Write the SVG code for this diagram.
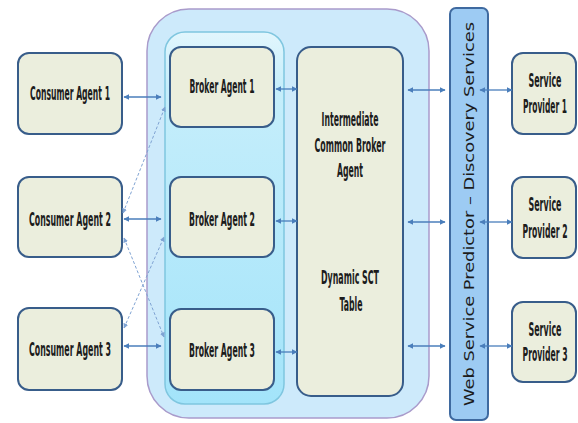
<svg xmlns="http://www.w3.org/2000/svg" width="578" height="423" viewBox="0 0 578 423">
<defs>
<marker id="ah" viewBox="0 0 10 10" refX="9" refY="5" markerWidth="6" markerHeight="6" orient="auto-start-reverse" markerUnits="userSpaceOnUse"><path d="M0,0 L10,5 L0,10 z" fill="#4a7ebb"/></marker>
<marker id="ahs" viewBox="0 0 10 10" refX="9" refY="5" markerWidth="5" markerHeight="5" orient="auto-start-reverse" markerUnits="userSpaceOnUse"><path d="M0,0 L10,5 L0,10 z" fill="#7fa3d3"/></marker>
<linearGradient id="inner" x1="0" y1="0" x2="0" y2="1"><stop offset="0" stop-color="#e2f6fd"/><stop offset="0.15" stop-color="#c6eefb"/><stop offset="1" stop-color="#a3e4fa"/></linearGradient>
</defs>
<style>
.node{fill:#ebeedd;stroke:#385d8a;stroke-width:2}
.t{font-family:"DejaVu Sans Condensed","Liberation Sans Narrow","Liberation Sans",sans-serif;font-size:19px;font-weight:bold;fill:#1c1c1c;text-anchor:middle}
.c{stroke:#4a7ebb;stroke-width:1.3;fill:none;marker-start:url(#ah);marker-end:url(#ah)}
.d{stroke:#7fa3d3;stroke-width:1;fill:none;stroke-dasharray:3 2;marker-start:url(#ahs);marker-end:url(#ahs)}
</style>
<rect x="0" y="0" width="578" height="423" fill="#ffffff"/>
<g id="broker-container">
<rect x="147" y="9" width="282" height="409" rx="42" fill="#cdeafb" stroke="#a99bcb" stroke-width="1.5"/>
<rect x="165" y="32" width="119" height="372" rx="20" fill="url(#inner)" stroke="#7fc6df" stroke-width="1.5"/>
</g>
<g id="consumer1"><rect class="node" x="18" y="53" width="104" height="81" rx="11"/><text class="t" transform="translate(70,100) scale(0.5,1)" textLength="160" lengthAdjust="spacingAndGlyphs">Consumer Agent 1</text></g>
<g id="consumer2"><rect class="node" x="18" y="177" width="104" height="80" rx="11"/><text class="t" transform="translate(70,226) scale(0.5,1)" textLength="164" lengthAdjust="spacingAndGlyphs">Consumer Agent 2</text></g>
<g id="consumer3"><rect class="node" x="18" y="308" width="104" height="82" rx="11"/><text class="t" transform="translate(70,356) scale(0.5,1)" textLength="164" lengthAdjust="spacingAndGlyphs">Consumer Agent 3</text></g>
<g id="broker1"><rect class="node" x="170" y="47" width="104" height="80" rx="11"/><text class="t" transform="translate(222,93) scale(0.5,1)" textLength="130" lengthAdjust="spacingAndGlyphs">Broker Agent 1</text></g>
<g id="broker2"><rect class="node" x="170" y="177" width="104" height="80" rx="11"/><text class="t" transform="translate(222,226) scale(0.5,1)" textLength="132" lengthAdjust="spacingAndGlyphs">Broker Agent 2</text></g>
<g id="broker3"><rect class="node" x="170" y="309" width="104" height="81" rx="11"/><text class="t" transform="translate(222,357) scale(0.5,1)" textLength="132" lengthAdjust="spacingAndGlyphs">Broker Agent 3</text></g>
<g id="icba"><rect class="node" x="297" y="47" width="106" height="349" rx="14"/>
<text class="t" transform="translate(350,126) scale(0.5,1)" textLength="114" lengthAdjust="spacingAndGlyphs">Intermediate</text>
<text class="t" transform="translate(350,152) scale(0.5,1)" textLength="142" lengthAdjust="spacingAndGlyphs">Common Broker</text>
<text class="t" transform="translate(350,177) scale(0.5,1)" textLength="52" lengthAdjust="spacingAndGlyphs">Agent</text>
<text class="t" transform="translate(350,284) scale(0.5,1)" textLength="116" lengthAdjust="spacingAndGlyphs">Dynamic SCT</text>
<text class="t" transform="translate(351,311) scale(0.5,1)" textLength="46" lengthAdjust="spacingAndGlyphs">Table</text>
</g>
<g id="wsp"><rect x="450" y="8" width="38" height="412" rx="6" fill="#9dcbf3" stroke="#3f6aa0" stroke-width="2"/>
<text x="469" y="214" transform="rotate(-90 469 214)" text-anchor="middle" dominant-baseline="central" font-family="DejaVu Sans, Verdana, sans-serif" font-size="14" fill="#1c1c1c" textLength="384" lengthAdjust="spacingAndGlyphs">Web Service Predictor – Discovery Services</text></g>
<g id="sp1"><rect class="node" x="512" y="53" width="64" height="81" rx="11"/><text class="t" transform="translate(545,87) scale(0.5,1)" textLength="66" lengthAdjust="spacingAndGlyphs">Service</text><text class="t" transform="translate(545,113) scale(0.5,1)" textLength="88" lengthAdjust="spacingAndGlyphs">Provider 1</text></g>
<g id="sp2"><rect class="node" x="512" y="177" width="64" height="81" rx="11"/><text class="t" transform="translate(545,211) scale(0.5,1)" textLength="66" lengthAdjust="spacingAndGlyphs">Service</text><text class="t" transform="translate(545,238) scale(0.5,1)" textLength="90" lengthAdjust="spacingAndGlyphs">Provider 2</text></g>
<g id="sp3"><rect class="node" x="512" y="302" width="64" height="80" rx="11"/><text class="t" transform="translate(545,336) scale(0.5,1)" textLength="66" lengthAdjust="spacingAndGlyphs">Service</text><text class="t" transform="translate(545,361) scale(0.5,1)" textLength="90" lengthAdjust="spacingAndGlyphs">Provider 3</text></g>
<g id="connectors">
<line class="c" x1="124" y1="97" x2="161" y2="97"/>
<line class="c" x1="124" y1="219" x2="161" y2="219"/>
<line class="c" x1="124" y1="346" x2="161" y2="346"/>
<line class="c" x1="276" y1="89" x2="297" y2="89"/>
<line class="c" x1="276" y1="221" x2="297" y2="221"/>
<line class="c" x1="276" y1="352" x2="297" y2="352"/>
<line class="c" x1="408" y1="90" x2="445" y2="90"/>
<line class="c" x1="408" y1="222" x2="445" y2="222"/>
<line class="c" x1="408" y1="346" x2="445" y2="346"/>
<line class="c" x1="480" y1="90" x2="512" y2="90"/>
<line class="c" x1="480" y1="222" x2="512" y2="222"/>
<line class="c" x1="480" y1="346" x2="512" y2="346"/>
<line class="d" x1="123" y1="213" x2="165" y2="107"/>
<line class="d" x1="124" y1="238" x2="164" y2="337"/>
<line class="d" x1="124" y1="328" x2="164" y2="237"/>
</g>
</svg>
